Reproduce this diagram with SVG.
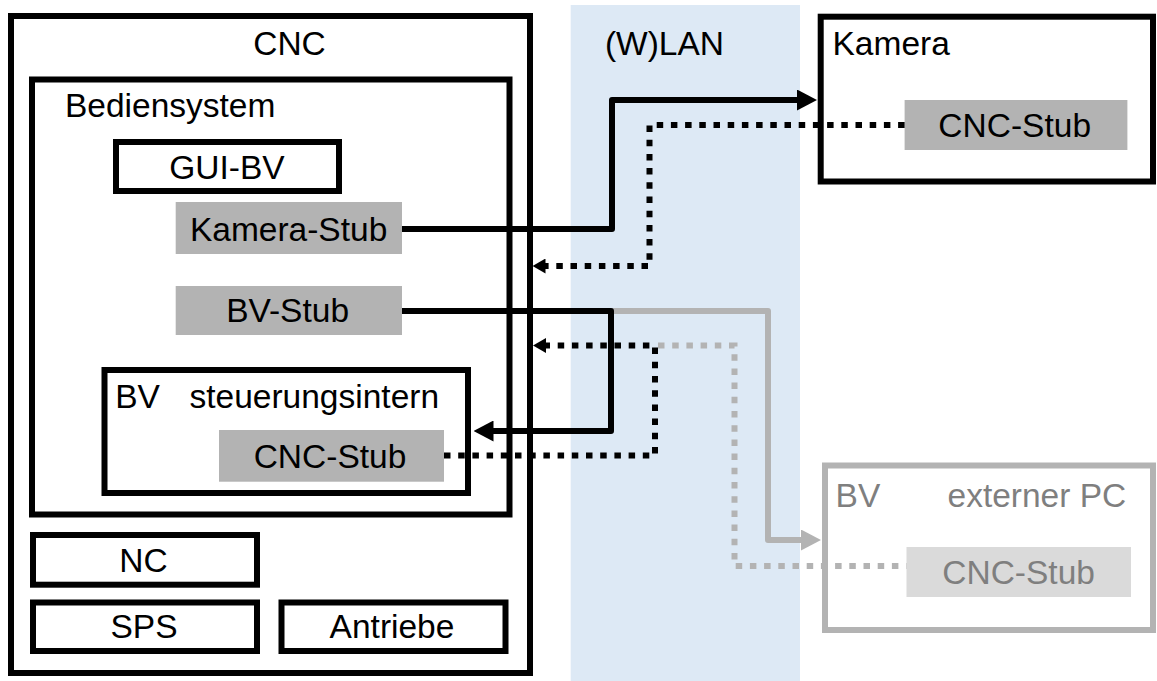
<svg xmlns="http://www.w3.org/2000/svg" width="1157" height="681" viewBox="0 0 1157 681">
<defs>
<style>
text{font-family:"Liberation Sans",Arial,sans-serif;font-size:33.5px;fill:#000}
.mid{text-anchor:middle}
.box{fill:#fff;stroke:#000;stroke-width:6}
.gbox{fill:#fff;stroke:#b3b3b3;stroke-width:6}
.stub{fill:#b3b3b3}
.lstub{fill:#dadada}
.gt{fill:#7f7f7f}
.solid{fill:none;stroke:#000;stroke-width:6;stroke-linejoin:round}
.gsolid{fill:none;stroke:#b3b3b3;stroke-width:6;stroke-linejoin:round}
.dot{fill:none;stroke:#000;stroke-width:6;stroke-dasharray:6.5 7.7}
.gdot{fill:none;stroke:#b3b3b3;stroke-width:6;stroke-dasharray:6.5 7.7}
</style>
<marker id="ah" markerUnits="userSpaceOnUse" markerWidth="20" markerHeight="21" viewBox="0 0 20 21" refX="10" refY="10.5" orient="auto"><path d="M0,0 L20,10.5 L0,21 z" fill="#000"/></marker>
<marker id="ahg" markerUnits="userSpaceOnUse" markerWidth="20" markerHeight="21" viewBox="0 0 20 21" refX="10" refY="10.5" orient="auto"><path d="M0,0 L20,10.5 L0,21 z" fill="#b3b3b3"/></marker>
<marker id="ahd" markerUnits="userSpaceOnUse" markerWidth="13" markerHeight="15" viewBox="0 0 13 15" refX="6" refY="7.5" orient="auto"><path d="M0,0 L13,7.5 L0,15 z" fill="#000"/></marker>
</defs>
<rect id="wlan-band" x="570.7" y="5" width="229.3" height="676" fill="#dde9f5"/>
<g id="cnc"><rect class="box" x="11" y="16" width="519" height="657"/><text class="mid" x="289.5" y="55">CNC</text></g>
<g id="bediensystem"><rect class="box" x="32" y="79.5" width="477.5" height="435"/><text x="65" y="116.7">Bediensystem</text></g>
<g id="gui-bv"><rect class="box" x="116" y="142" width="223" height="49"/><text class="mid" x="227" y="178.5">GUI-BV</text></g>
<g id="kamera-stub"><rect class="stub" x="175.7" y="202" width="226.3" height="52"/><text class="mid" x="288.6" y="240.5">Kamera-Stub</text></g>
<g id="bv-stub"><rect class="stub" x="175.7" y="286" width="226.3" height="49"/><text class="mid" x="287.6" y="322">BV-Stub</text></g>
<g id="bv-intern"><rect class="box" x="104.5" y="370" width="363.5" height="123"/><text x="115.2" y="407.5">BV</text><text x="189.5" y="407.5">steuerungsintern</text></g>
<g id="cnc-stub-intern"><rect class="stub" x="219" y="430" width="225" height="51.7"/><text class="mid" x="330" y="467.5">CNC-Stub</text></g>
<g id="nc"><rect class="box" x="33" y="535" width="224" height="49.7"/><text class="mid" x="143.4" y="572">NC</text></g>
<g id="sps"><rect class="box" x="33" y="602.5" width="224" height="48.5"/><text class="mid" x="144" y="638">SPS</text></g>
<g id="antriebe"><rect class="box" x="281.5" y="602.5" width="224" height="48.5"/><text class="mid" x="392" y="638">Antriebe</text></g>
<g id="wlan-label"><text class="mid" x="664.5" y="55">(W)LAN</text></g>
<g id="kamera"><rect class="box" x="820.7" y="16.7" width="332.3" height="164.8"/><text x="832.5" y="55">Kamera</text></g>
<g id="cnc-stub-kamera"><rect class="stub" x="904.6" y="100" width="222.8" height="50"/><text class="mid" x="1014.7" y="136.5">CNC-Stub</text></g>
<g id="bv-extern"><rect class="gbox" x="825" y="465.5" width="328" height="164.5"/><text class="gt" x="835.6" y="507">BV</text><text class="gt" x="947.5" y="507">externer PC</text></g>
<g id="cnc-stub-extern"><rect class="lstub" x="906.5" y="547" width="224.5" height="50"/><text class="gt mid" x="1018.6" y="584">CNC-Stub</text></g>
<g id="connectors">
<path class="gsolid" d="M611,311 H768 V540 H811" marker-end="url(#ahg)"/>
<path class="gdot" d="M658,345.5 H734.5 V566 H906.5"/>
<path class="solid" d="M402,229 H612 V100 H807" marker-end="url(#ah)"/>
<path class="dot" d="M904.6,125 H649.5 V266 H539.5" marker-end="url(#ahd)"/>
<path class="solid" d="M402,311 H611 V431 H483.5" marker-end="url(#ah)"/>
<path class="dot" d="M444,455.5 H655 V345.5 H540" marker-end="url(#ahd)"/>
</g>
</svg>
